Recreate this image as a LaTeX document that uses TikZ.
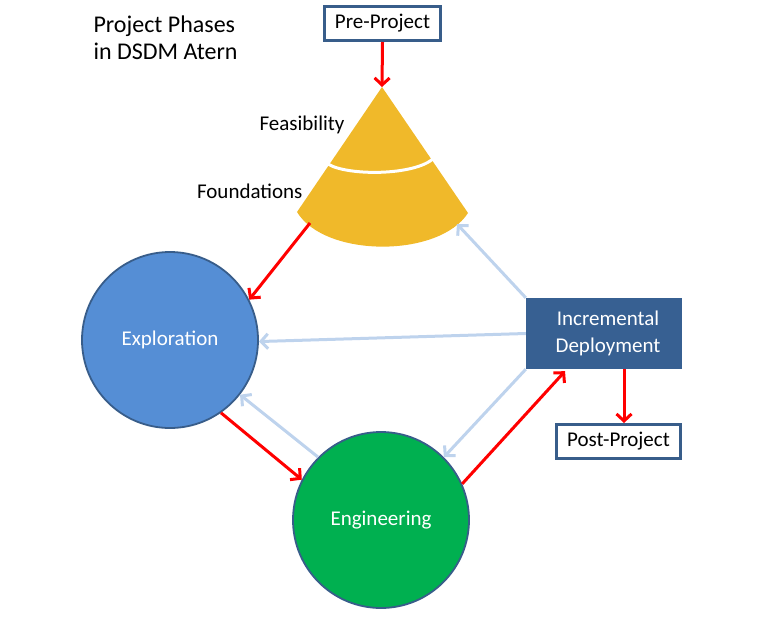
\documentclass[tikz,border=0pt]{standalone}
\usepackage{fontspec}
\setmainfont{Carlito}
\usetikzlibrary{arrows.meta}

\definecolor{edgeblue}{RGB}{56,93,138}
\definecolor{deployblue}{RGB}{55,96,146}
\definecolor{exploblue}{RGB}{85,142,213}
\definecolor{engingreen}{RGB}{0,176,80}
\definecolor{sectorgold}{RGB}{240,185,42}
\definecolor{flowred}{RGB}{255,0,0}
\definecolor{backblue}{RGB}{190,211,237}

\begin{document}
\begin{tikzpicture}[
    x=1pt,y=-1pt,>={Straight Barb[length=7pt,width=15pt]},
    every node/.style={font=\fontsize{21}{27}\selectfont},
    phase circle/.style={circle,draw=edgeblue,line width=1.8pt,minimum size=176pt,
      inner sep=0pt,text=white},
    end box/.style={draw=edgeblue,line width=3pt,fill=white,minimum height=34pt,
      inner sep=0pt},
    flow arrow/.style={->,draw=flowred,line width=3pt},
    back arrow/.style={->,draw=backblue,line width=3pt}
  ]
    \useasboundingbox (0,0) rectangle (783,616);

    % title
    \node[anchor=west,align=left,font=\fontsize{24}{27}\selectfont] (title) at (90,38)
      {Project Phases\\in DSDM Atern};

    % feasibility / foundations sector
    \fill[sectorgold] (382,87) -- (297,212) .. controls (325,258) and (439,258) .. (468,213) -- cycle;
    \draw[white,line width=3pt] (328,164) .. controls (347,176) and (415,176) .. (434,158);
    \coordinate (apex) at (382,87);
    \coordinate (fdnL) at (310,223);
    \coordinate (fdnR) at (457,224);
    \node[anchor=east] (feas) at (348,125) {Feasibility};
    \node[anchor=east] (fdn) at (306,191) {Foundations};

    \node[end box,minimum width=116pt] (pre) at (382.5,23.5) {Pre-Project};
    \node[phase circle,fill=exploblue] (explo) at (170,340) {Exploration};
    \node[phase circle,fill=engingreen] (engin) at (381,520) {Engineering};
    \node[fill=deployblue,text=white,align=center,minimum width=156pt,minimum height=71pt,
      inner sep=0pt] (incdep) at (604,333.5) {\hspace*{8pt}Incremental\\\hspace*{8pt}Deployment};
    \node[end box,minimum width=124pt] (post) at (618.5,441.5) {Post-Project};

    % back arrows
    \draw[back arrow] (incdep.north west) -- (fdnR);
    \draw[back arrow] (incdep.west) -- (explo.-1);
    \draw[back arrow] (incdep.south west) -- (engin.45);
    \draw[back arrow] (engin.135) -- (explo.-38);

    % forward arrows
    \draw[flow arrow] (pre.south) -- (apex);
    \draw[flow arrow] (fdnL) -- (explo.27);
    \draw[flow arrow] (explo.-55) -- (engin.153);
    \draw[flow arrow] (engin.24) -- ([xshift=-39pt,yshift=-2pt]incdep.south);
    \draw[flow arrow] ([xshift=20pt]incdep.south) -- ([xshift=5.5pt]post.north);
  \end{tikzpicture}
\end{document}
